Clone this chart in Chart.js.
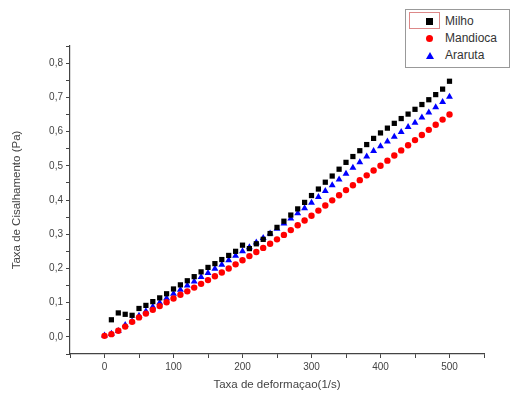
<!DOCTYPE html>
<html>
<head>
<meta charset="utf-8">
<script src="https://cdn.jsdelivr.net/npm/chart.js@4/dist/chart.umd.min.js"></script>
<style>
  html, body { margin: 0; padding: 0; background: #fff; }
  #wrap { position: relative; width: 511px; height: 402px; }
  #legend {
    position: absolute; left: 405px; top: 9px; width: 105px; height: 59px;
    border: 1px solid #999; background: #fff; box-sizing: border-box;
    font-family: "Liberation Sans", Arial, sans-serif; font-size: 12px; color: #333;
  }
  #legend .row { position: absolute; left: 0; height: 17px; line-height: 17px; }
  #legend .sym { position: absolute; left: 20px; top: 5px; width: 7px; height: 7px; }
  #legend .txt { position: absolute; left: 39px; top: 0; white-space: nowrap; }
  #legend .hl { position: absolute; left: 3px; top: 2px; width: 31px; height: 17px; border: 1px solid #d88; box-sizing: border-box; }
</style>
</head>
<body>
<div id="wrap">
  <canvas id="myChart" width="511" height="402"></canvas>
  <div id="legend"></div>
</div>
<script>
// taxa de deformacao (1/s)
const shearRate = [0, 10, 20, 30, 40, 50, 60, 70, 80, 90,
  100, 110, 120, 130, 140, 150, 160, 170, 180, 190,
  200, 210, 220, 230, 240, 250, 260, 270, 280, 290,
  300, 310, 320, 330, 340, 350, 360, 370, 380, 390,
  400, 410, 420, 430, 440, 450, 460, 470, 480, 490, 500];

const milho = [null, 0.050, 0.070, 0.066, 0.063, 0.083, 0.092, 0.103, 0.114, 0.126,
  0.140, 0.152, 0.164, 0.176, 0.190, 0.203, 0.214, 0.226, 0.238, 0.250,
  0.268, 0.258, 0.272, 0.285, 0.302, 0.320, 0.338, 0.356, 0.374, 0.393,
  0.413, 0.432, 0.452, 0.470, 0.490, 0.510, 0.527, 0.544, 0.562, 0.580,
  0.596, 0.610, 0.624, 0.638, 0.651, 0.665, 0.679, 0.693, 0.708, 0.724, 0.747];

const mandioca = [0.003, 0.008, 0.018, 0.030, 0.044, 0.057, 0.068, 0.079, 0.090, 0.101,
  0.112, 0.123, 0.133, 0.144, 0.155, 0.166, 0.177, 0.188, 0.200, 0.212,
  0.224, 0.236, 0.248, 0.260, 0.272, 0.285, 0.298, 0.312, 0.326, 0.340,
  0.354, 0.369, 0.384, 0.399, 0.414, 0.429, 0.443, 0.458, 0.472, 0.486,
  0.500, 0.515, 0.530, 0.545, 0.560, 0.575, 0.590, 0.605, 0.620, 0.635, 0.650];

const araruta = [0.004, 0.009, 0.017, 0.035, 0.046, 0.062, 0.075, 0.088, 0.100, 0.113,
  0.126, 0.138, 0.150, 0.162, 0.175, 0.187, 0.199, 0.211, 0.224, 0.237,
  0.250, 0.262, 0.276, 0.289, 0.302, 0.316, 0.331, 0.346, 0.361, 0.376,
  0.392, 0.409, 0.426, 0.443, 0.460, 0.477, 0.494, 0.510, 0.527, 0.543,
  0.557, 0.571, 0.585, 0.599, 0.613, 0.626, 0.641, 0.656, 0.671, 0.686, 0.702];

const seriesNames = ["Milho", "Mandioca", "Araruta"];
const seriesColors = ["#000000", "#ff0000", "#0000ff"];
const seriesStyles = ["rect", "circle", "triangle"];
const seriesValues = [milho, mandioca, araruta];

const toPoints = (vals) => shearRate
  .map((x, i) => ({ x: x, y: vals[i] }))
  .filter(p => p.y !== null);

const font = { family: "'Liberation Sans', Arial, sans-serif", size: 10 };
const textColor = "#444";

const datasets = seriesNames.map((name, i) => ({
  label: name,
  data: toPoints(seriesValues[i]),
  showLine: false,
  pointStyle: seriesStyles[i],
  pointRadius: seriesStyles[i] === "circle" ? 3.2 : (seriesStyles[i] === "rect" ? 3.7 : 4),
  backgroundColor: seriesColors[i],
  borderColor: seriesColors[i],
  borderWidth: 0,
}));

const ctx = document.getElementById("myChart");
new Chart(ctx, {
  type: "scatter",
  data: { datasets: datasets },
  options: {
    responsive: false,
    animation: false,
    layout: { padding: { top: 46, right: 27, left: 0, bottom: 0 } },
    plugins: { legend: { display: false }, tooltip: { enabled: false } },
    scales: {
      x: {
        type: "linear",
        min: -50,
        max: 550,
        afterFit: (s) => { s.height = 48; },
        ticks: {
          stepSize: 50,
          autoSkip: false,
          maxRotation: 0,
          color: textColor,
          font: font,
          padding: 3,
          callback: (v) => (v % 100 === 0 && v >= 0 && v <= 500) ? String(v) : "",
        },
        grid: { drawOnChartArea: false, drawTicks: true, tickLength: 4, color: "#444" },
        border: { color: "#444", width: 1.2 },
        title: {
          display: true,
          text: "Taxa de deformaçao(1/s)",
          color: textColor,
          font: { family: font.family, size: 11.5 },
          padding: { top: 4, bottom: 10 },
        },
      },
      y: {
        type: "linear",
        min: -0.05,
        max: 0.85,
        afterFit: (s) => { s.width = 70; },
        ticks: {
          stepSize: 0.05,
          autoSkip: false,
          color: textColor,
          font: font,
          padding: 3,
          callback: (v) => {
            const r = Math.round(v * 100);
            if (r % 10 !== 0 || r < 0 || r > 80) return "";
            return (r / 100).toFixed(1).replace(".", ",");
          },
        },
        grid: { drawOnChartArea: false, drawTicks: true, tickLength: 4, color: "#444" },
        border: { color: "#444", width: 1.2 },
        title: {
          display: true,
          text: "Taxa de Cisalhamento (Pa)",
          color: textColor,
          font: { family: font.family, size: 11.5 },
          padding: { top: 10, bottom: 4 },
        },
      },
    },
  },
});

// legenda em caixa no canto superior direito
const legend = document.getElementById("legend");
seriesNames.forEach((name, i) => {
  const row = document.createElement("div");
  row.className = "row";
  row.style.top = (3 + i * 17) + "px";
  row.style.width = "100%";
  const sym = document.createElement("div");
  sym.className = "sym";
  if (seriesStyles[i] === "circle") {
    sym.style.background = seriesColors[i];
    sym.style.borderRadius = "50%";
  } else if (seriesStyles[i] === "triangle") {
    sym.style.width = "0"; sym.style.height = "0";
    sym.style.borderLeft = "4px solid transparent";
    sym.style.borderRight = "4px solid transparent";
    sym.style.borderBottom = "7px solid " + seriesColors[i];
  } else {
    sym.style.background = seriesColors[i];
  }
  const txt = document.createElement("div");
  txt.className = "txt";
  txt.textContent = name;
  row.appendChild(sym);
  row.appendChild(txt);
  legend.appendChild(row);
});
const hl = document.createElement("div");
hl.className = "hl";
legend.appendChild(hl);
</script>
</body>
</html>
